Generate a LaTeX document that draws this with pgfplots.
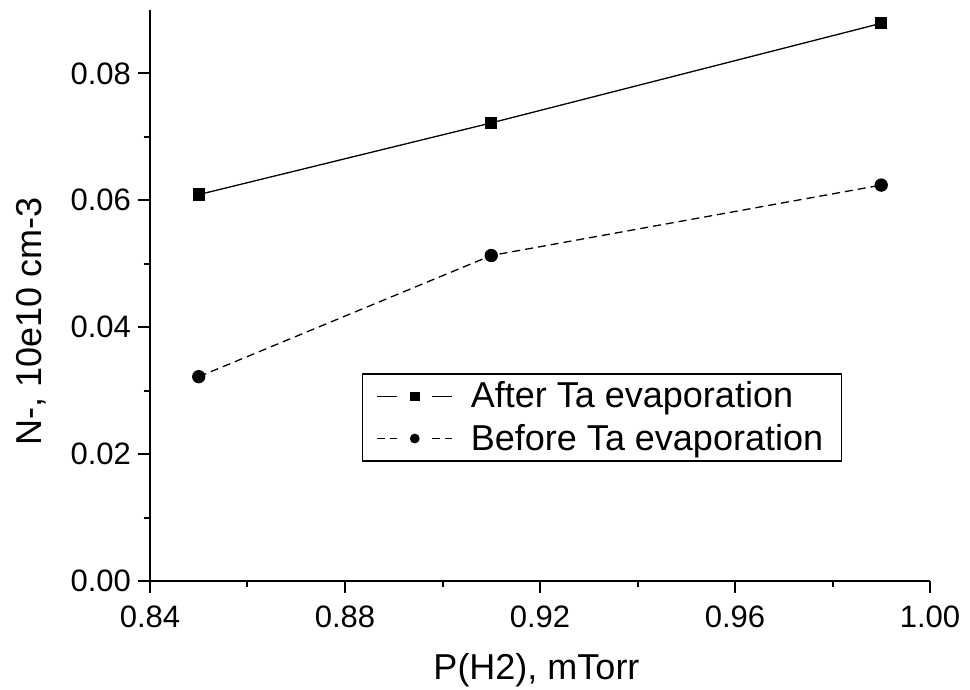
\documentclass[border=0pt]{standalone}
\usepackage{fontspec}
\setmainfont{Liberation Sans}
\usepackage{pgfplots}
\pgfplotsset{compat=1.18}
\usetikzlibrary{calc}

% Negative ion density versus hydrogen pressure
\pgfplotstableread{
p      n
0.85   0.0609
0.91   0.0722
0.99   0.0879
}\afterTa
\pgfplotstableread{
p      n
0.85   0.0322
0.91   0.0513
0.99   0.0624
}\beforeTa

\begin{document}
\begin{tikzpicture}
\begin{axis}[
  name=ax,
  scale only axis,
  width=390pt, height=285.5pt,
  xmin=0.84, xmax=1.00, ymin=0, ymax=0.09,
  axis lines=left,
  axis line style={-, line width=1pt},
  xtick={0.84,0.88,0.92,0.96,1.00},
  ytick={0,0.02,0.04,0.06,0.08},
  minor x tick num=1, minor y tick num=1,
  scaled x ticks=false, scaled y ticks=false,
  tick align=outside,
  major tick length=6pt, minor tick length=3pt,
  tick style={black, line width=1pt},
  /pgf/number format/assume math mode=true,
  xticklabel style={/pgf/number format/fixed, /pgf/number format/fixed zerofill, /pgf/number format/precision=2, yshift=-3pt},
  yticklabel style={/pgf/number format/fixed, /pgf/number format/fixed zerofill, /pgf/number format/precision=2},
  tick label style={font=\fontsize{15.5}{18}\selectfont},
  xlabel={P(H2), mTorr},
  ylabel={N-, 10e10 cm-3},
  xlabel style={font=\fontsize{18}{21}\selectfont, at={(axis description cs:0.4955,0)}, anchor=base, yshift=-49.5pt},
  ylabel style={font=\fontsize{18}{21}\selectfont, at={(axis description cs:-0.1526,0.455)}, anchor=center},
  legend style={at={(0.2718,0.3637)}, anchor=north west, draw=black, line width=0.6pt,
    font=\fontsize{18}{21}\selectfont, inner xsep=7pt, inner ysep=2pt, row sep=2.5pt},
  legend cell align=left,
  legend image code/.code={
    \draw[#1, mark=none] (0pt,0pt) -- (10pt,0pt);
    \draw[#1, mark=none] (27.5pt,0pt) -- (37.5pt,0pt);
    \draw[#1, mark size=2.1pt, only marks] plot coordinates {(18.75pt,0pt)};
    \path (44.5pt,0pt);
  },
]
\addplot[black, line width=0.65pt, mark=square*, mark size=2.75pt, mark options={solid}]
  table[x=p, y=n] {\afterTa};
\addlegendentry{After Ta evaporation}
\addplot[black, line width=0.65pt, dash pattern=on 4pt off 2.5pt, mark=*, mark size=3pt, mark options={solid}]
  table[x=p, y=n] {\beforeTa};
\addlegendentry{Before Ta evaporation}
\end{axis}
\pgfresetboundingbox
\path[use as bounding box] ($(ax.south west)+(-75pt,-54.5pt)$) rectangle ($(ax.north east)+(20pt,5pt)$);
\end{tikzpicture}
\end{document}
